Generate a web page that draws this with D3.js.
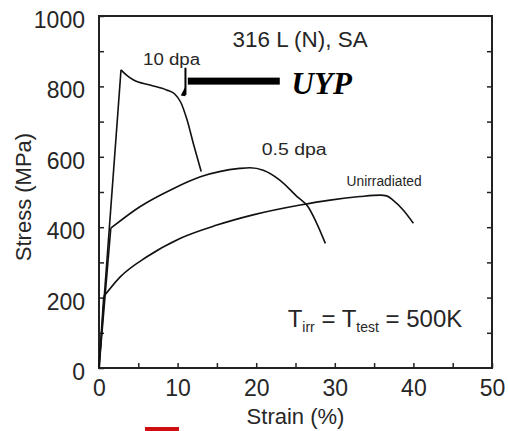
<!DOCTYPE html>
<html>
<head>
<meta charset="utf-8">
<script src="https://cdnjs.cloudflare.com/ajax/libs/d3/7.8.5/d3.min.js"></script>
<style>
    body { margin: 0; background: #fff; }
    text { font-family: "Liberation Sans", Arial, sans-serif; fill: #262626; }
</style>
</head>
<body>
<svg id="chart" width="508" height="431"></svg>
<script>
//tick labels
var strainTicks = [0, 10, 20, 30, 40, 50];
var stressTicks = [0, 200, 400, 600, 800, 1000];

//stress-strain curves, [strain %, stress MPa]
var unirradiated = [[0, 0], [0.6, 203], [2.7, 259], [6.1, 316], [10.3, 368], [15.0, 406], [19.6, 435], [25.6, 463], [29.4, 477], [33.2, 487], [35.8, 491], [36.6, 489], [37.4, 477], [38.7, 449], [40.0, 411]];
var dpa05 = [[0, 0], [1.5, 397], [5.2, 458], [9.5, 510], [12.9, 543], [17.9, 567], [19.2, 569], [20.9, 562], [23.0, 534], [25.2, 487], [26.6, 458], [27.7, 411], [28.8, 354]];
var dpa10 = [[0, 0], [2.8, 847], [3.5, 832], [4.4, 818], [6.5, 804], [8.6, 790], [9.6, 779], [10.4, 755], [11.2, 705], [12.0, 638], [13.0, 558]];

//texts
var curveLabels = ['10 dpa', '0.5 dpa', 'Unirradiated'];
var titleText = '316 L (N), SA';

(function () {
    var svg = d3.select('#chart'),
        plot = { left: 99, right: 492, top: 16, bottom: 368 },
        ink = '#222';

    //scales
    var x = d3.scaleLinear().domain([0, 50]).range([plot.left, plot.right]),
        y = d3.scaleLinear().domain([0, 1000]).range([plot.bottom, plot.top]);

    //bottom axis, minor ticks every 5
    svg.append('g')
        .attr('transform', 'translate(0,' + plot.bottom + ')')
        .call(d3.axisBottom(x)
            .tickValues(d3.range(0, 51, 5))
            .tickSize(-5).tickSizeOuter(0).tickPadding(12)
            .tickFormat(function (d) { return strainTicks.indexOf(d) > -1 ? d : ''; }));

    //left axis, minor ticks every 100
    var yAxis = svg.append('g')
        .attr('transform', 'translate(' + plot.left + ',0)')
        .call(d3.axisLeft(y)
            .tickValues(d3.range(0, 1001, 100))
            .tickSize(-5).tickSizeOuter(0).tickPadding(14)
            .tickFormat(function (d) { return stressTicks.indexOf(d) > -1 ? d : ''; }));
    yAxis.selectAll('text').attr('dy', '0.5em');

    //right axis, ticks only
    svg.append('g')
        .attr('transform', 'translate(' + plot.right + ',0)')
        .call(d3.axisRight(y)
            .tickValues(d3.range(100, 1000, 100))
            .tickSize(-5).tickSizeOuter(0)
            .tickFormat(''));

    //style axes
    svg.selectAll('.domain').remove();
    svg.selectAll('.tick line').attr('stroke', ink).attr('stroke-width', 1.5);
    svg.selectAll('.tick text').attr('font-size', 23);

    //frame
    svg.append('rect')
        .attr('x', plot.left).attr('y', plot.top)
        .attr('width', plot.right - plot.left).attr('height', plot.bottom - plot.top)
        .attr('fill', 'none').attr('stroke', ink).attr('stroke-width', 2);

    //axis titles
    svg.append('text')
        .attr('transform', 'translate(31,197) rotate(-90)')
        .attr('text-anchor', 'middle').attr('font-size', 22)
        .text('Stress (MPa)');
    svg.append('text')
        .attr('x', (plot.left + plot.right) / 2).attr('y', 424)
        .attr('text-anchor', 'middle').attr('font-size', 22)
        .text('Strain (%)');

    //draws a curve: straight elastic part, smooth plastic part
    var straight = d3.line().x(function (d) { return x(d[0]); }).y(function (d) { return y(d[1]); }),
        smooth = d3.line().x(function (d) { return x(d[0]); }).y(function (d) { return y(d[1]); }).curve(d3.curveMonotoneX);

    [unirradiated, dpa05, dpa10].forEach(function (serie) {
        svg.append('path').attr('d', straight(serie.slice(0, 2)))
            .attr('fill', 'none').attr('stroke', '#111').attr('stroke-width', 1.6);
        svg.append('path').attr('d', smooth(serie.slice(1)))
            .attr('fill', 'none').attr('stroke', '#111').attr('stroke-width', 1.6)
            .attr('stroke-linejoin', 'round');
    });

    //curve labels
    var labelPos = [[5.6, 860, 16, 57], [20.7, 605, 16, 65], [31.5, 517, 14, 75]];
    curveLabels.forEach(function (t, i) {
        var p = labelPos[i];
        svg.append('text')
            .attr('x', x(p[0])).attr('y', y(p[1]))
            .attr('font-size', p[2])
            .attr('textLength', p[3]).attr('lengthAdjust', 'spacingAndGlyphs')
            .text(t);
    });

    //title
    svg.append('text')
        .attr('x', x(17)).attr('y', 47)
        .attr('font-size', 22)
        .attr('textLength', 135).attr('lengthAdjust', 'spacingAndGlyphs')
        .text(titleText);

    //uyp arrow
    svg.append('rect')
        .attr('x', x(11.3)).attr('y', y(815) - 3.5)
        .attr('width', x(23.0) - x(11.3)).attr('height', 7)
        .attr('fill', '#000');
    svg.append('line')
        .attr('x1', x(11.0)).attr('x2', x(11.0))
        .attr('y1', y(853)).attr('y2', y(776))
        .attr('stroke', '#000').attr('stroke-width', 2);
    svg.append('path')
        .attr('d', 'M' + x(10.4) + ',' + y(774) + 'L' + x(11.0) + ',' + y(800) + 'L' + x(11.0) + ',' + y(772) + 'Z')
        .attr('fill', '#000');
    svg.append('text')
        .attr('x', x(24.5)).attr('y', y(778))
        .style('font-family', '"Liberation Serif", "Times New Roman", serif')
        .style('font-style', 'italic').style('font-weight', 'bold')
        .style('fill', '#000')
        .attr('font-size', 31)
        .text('UYP');

    //test temperature note
    var note = svg.append('text')
        .attr('x', x(24.0)).attr('y', y(117))
        .attr('font-size', 24);
    note.append('tspan').text('T');
    note.append('tspan').attr('font-size', 14).attr('dy', 5).text('irr');
    note.append('tspan').attr('dy', -5).text(' = T');
    note.append('tspan').attr('font-size', 14).attr('dy', 5).text('test');
    note.append('tspan').attr('dy', -5).text(' = 500K');

    //red mark at the bottom edge
    svg.append('rect')
        .attr('x', 145).attr('y', 427).attr('width', 34).attr('height', 4)
        .attr('fill', '#d01010');
})();
</script>
</body>
</html>
